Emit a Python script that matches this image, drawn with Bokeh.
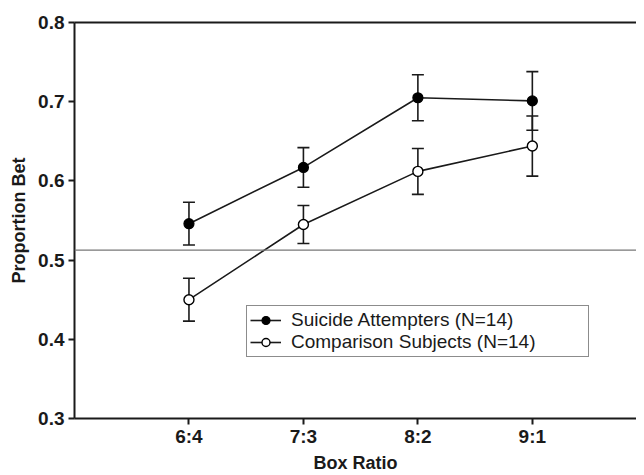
from bokeh.plotting import figure
from bokeh.models import (ColumnDataSource, Whisker, TeeHead, Span, Legend, LegendItem,
                          LinearAxis, FixedTicker, Range1d)
from bokeh.embed import file_html
from bokeh.resources import INLINE

categories = ["6:4", "7:3", "8:2", "9:1"]
suicide = [0.546, 0.617, 0.705, 0.701]
suicide_err = [0.027, 0.025, 0.029, 0.037]
comparison = [0.450, 0.545, 0.612, 0.644]
comparison_err = [0.027, 0.024, 0.029, 0.038]
chance_level = 0.5125
y_ticks = [0.3, 0.4, 0.5, 0.6, 0.7, 0.8]

xpos = [i + 1 for i in range(len(categories))]

src_s = ColumnDataSource(dict(x=xpos, y=suicide,
                              upper=[v + e for v, e in zip(suicide, suicide_err)],
                              lower=[v - e for v, e in zip(suicide, suicide_err)]))
src_c = ColumnDataSource(dict(x=xpos, y=comparison,
                              upper=[v + e for v, e in zip(comparison, comparison_err)],
                              lower=[v - e for v, e in zip(comparison, comparison_err)]))

p = figure(width=636, height=475, output_backend="svg", toolbar_location=None,
           x_range=Range1d(0, 4.91), y_range=Range1d(0.3, 0.8),
           min_border_left=74, min_border_right=0, min_border_top=22, min_border_bottom=0)
p.outline_line_color = None
p.grid.visible = False
p.background_fill_color = "white"
p.border_fill_color = "white"

dark = "#1a1a1a"
FONT = "Liberation Sans"

# axes
p.xaxis.ticker = FixedTicker(ticks=xpos)
p.xaxis.major_label_overrides = {x: c for x, c in zip(xpos, categories)}
p.yaxis.ticker = FixedTicker(ticks=y_ticks)
p.yaxis.major_label_overrides = {t: f"{t:.1f}" for t in y_ticks}
for ax in (p.xaxis, p.yaxis):
    ax.axis_line_color = dark
    ax.axis_line_width = 2
    ax.major_tick_line_color = dark
    ax.major_tick_line_width = 2
    ax.major_tick_out = 6
    ax.major_tick_in = 0
    ax.minor_tick_line_color = None
    ax.major_label_text_font = FONT
    ax.major_label_text_font_style = "bold"
    ax.major_label_text_font_size = "19px"
    ax.major_label_text_color = dark
    ax.axis_label_text_font = FONT
    ax.axis_label_text_font_style = "bold"
    ax.axis_label_text_font_size = "18px"
    ax.axis_label_text_color = dark
p.xaxis.axis_label = "Box Ratio"
p.yaxis.axis_label = "Proportion Bet"
p.xaxis.major_label_standoff = 1
p.xaxis.axis_label_standoff = 3
p.yaxis.major_label_standoff = 4
p.yaxis.axis_label_standoff = 6

top = LinearAxis(ticker=FixedTicker(ticks=[]), axis_line_color=dark, axis_line_width=2,
                 major_label_text_font_size="0px", major_tick_line_color=None,
                 minor_tick_line_color=None)
p.add_layout(top, "above")

# chance line
p.add_layout(Span(location=chance_level, dimension="width", line_color="#777777", line_width=1.2))

# error bars
for src in (src_s, src_c):
    w = Whisker(source=src, base="x", upper="upper", lower="lower",
                line_color=dark, line_width=1.6, level="underlay",
                upper_head=TeeHead(size=12, line_color=dark, line_width=1.6),
                lower_head=TeeHead(size=12, line_color=dark, line_width=1.6))
    p.add_layout(w)

l1 = p.line("x", "y", source=src_s, line_color=dark, line_width=1.6)
m1 = p.scatter("x", "y", source=src_s, size=10, fill_color="black", line_color="black", line_width=1.2)
l2 = p.line("x", "y", source=src_c, line_color=dark, line_width=1.6)
m2 = p.scatter("x", "y", source=src_c, size=10, fill_color="white", line_color="black", line_width=1.4)

legend = Legend(items=[LegendItem(label="Suicide Attempters (N=14)", renderers=[l1, m1]),
                       LegendItem(label="Comparison Subjects (N=14)", renderers=[l2, m2])],
                location=(172, 61), orientation="vertical",
                border_line_color=dark, border_line_width=1.6,
                background_fill_color="white", background_fill_alpha=1.0,
                label_text_font=FONT, label_text_font_size="19px", label_text_color=dark,
                glyph_width=31, glyph_height=20, label_height=20, label_standoff=10,
                spacing=0, padding=3, margin=0, label_width=294)
p.add_layout(legend, "center")

open("out.html", "w").write(file_html(p, INLINE))
